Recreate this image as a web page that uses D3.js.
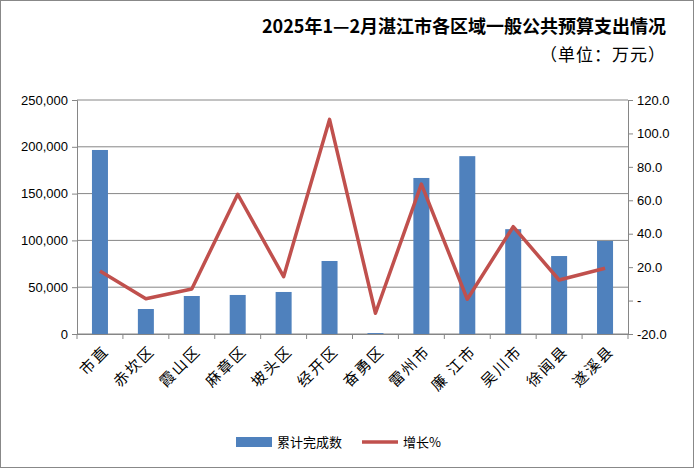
<!DOCTYPE html>
<html><head><meta charset="utf-8">
<script src="https://cdn.jsdelivr.net/npm/d3@7"></script>
<style>body{margin:0;background:#fff}svg{font-family:"Noto Sans CJK SC","Liberation Sans",sans-serif}</style>
</head><body><svg id="c" width="694" height="468"></svg>
<script>
const categories = ['市直','赤坎区','霞山区','麻章区','坡头区','经开区','奋勇区','雷州市','廉 江市','吴川市','徐闻县','遂溪县'];
const totals = [196600,26700,40600,41700,44900,78000,1000,166700,190000,112000,83300,99400];
const growth = [17.7,1.1,6.9,63.6,14.3,108.4,-7.6,69.7,0.8,44.2,12.3,19.3];
const leftTicks = [0,50000,100000,150000,200000,250000];
const rightTicks = [-20,0,20,40,60,80,100,120];

const svg = d3.select('#c');
svg.append('rect').attr('x',0.5).attr('y',0.5).attr('width',693).attr('height',467).attr('fill','#fff').attr('stroke','#888');
const L = 77, R = 628, T = 100, B = 334;
const x = d3.scaleBand().domain(categories).range([L, R]);
const y = d3.scaleLinear().domain([0,250000]).range([B, T]);
const y2 = d3.scaleLinear().domain([-20,120]).range([B, T]);

// gridlines
svg.append('g').selectAll('line').data(leftTicks).join('line')
  .attr('x1',L).attr('x2',R).attr('y1',d=>y(d)).attr('y2',d=>y(d)).attr('stroke','#868686');

svg.append('g').selectAll('rect').data(totals).join('rect')
  .attr('x',(d,i)=>x(categories[i])+x.bandwidth()/2-8).attr('width',16)
  .attr('y',d=>y(d)).attr('height',d=>B-y(d)).attr('fill','#4f81bd');

svg.append('path').datum(growth)
  .attr('d', d3.line().x((d,i)=>x(categories[i])+x.bandwidth()/2).y(d=>y2(d)))
  .attr('fill','none').attr('stroke','#c0504d').attr('stroke-width',3.5).attr('stroke-linejoin','round');

// axes
const ga = svg.append('g').attr('transform',`translate(${L},0)`)
  .call(d3.axisLeft(y).tickValues(leftTicks).tickFormat(d3.format(',')).tickSize(5));
const gb = svg.append('g').attr('transform',`translate(${R},0)`)
  .call(d3.axisRight(y2).tickValues(rightTicks).tickFormat(d=>d===0?'-':d.toFixed(1)).tickSize(5));
const gx = svg.append('g').attr('transform',`translate(0,${B})`)
  .call(d3.axisBottom(x).tickSize(0).tickFormat(''));
gx.selectAll('.tick').remove();
gx.selectAll('line.sep').data(d3.range(categories.length+1)).join('line')
  .attr('x1',i=>L+i*x.step()).attr('x2',i=>L+i*x.step()).attr('y1',0).attr('y2',5).attr('stroke','#868686');
[ga,gb,gx].forEach(g=>{g.selectAll('path,line').attr('stroke','#868686');
  g.selectAll('text').attr('font-size',13).attr('fill','#000').attr('font-family','"Liberation Sans",sans-serif');});
ga.selectAll('text').attr('x',-9);
gb.selectAll('text').attr('x',9);

svg.append('g').selectAll('text').data(categories).join('text')
  .attr('transform',d=>`translate(${x(d)+x.bandwidth()/2+10},${B+18}) rotate(-45)`)
  .attr('text-anchor','end').attr('font-size',15).attr('letter-spacing',2).attr('fill','#000').text(d=>d);

svg.append('text').attr('x',666).attr('y',33).attr('text-anchor','end')
  .attr('font-size',18).attr('font-weight','bold').text('2025年1—2月湛江市各区域一般公共预算支出情况');
svg.append('text').attr('x',666).attr('y',61).attr('text-anchor','end')
  .attr('font-size',17).attr('letter-spacing',1).text('（单位：万元）');

// legend
svg.append('rect').attr('x',236).attr('y',437).attr('width',36).attr('height',10).attr('fill','#4f81bd');
svg.append('text').attr('x',277).attr('y',447).attr('font-size',13).text('累计完成数');
svg.append('line').attr('x1',362).attr('x2',398).attr('y1',442).attr('y2',442).attr('stroke','#c0504d').attr('stroke-width',3.5);
svg.append('text').attr('x',403).attr('y',447).attr('font-size',13).text('增长%');
</script></body></html>
